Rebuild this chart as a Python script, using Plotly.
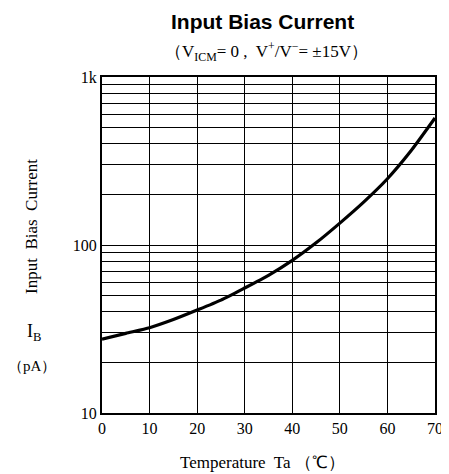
import plotly.graph_objects as go

temperature_c = [0, 5, 10, 15, 20, 25, 30, 35, 40, 45, 50, 55, 60, 65, 70]
bias_current_pa = [27.5, 29.8, 32.2, 36, 41, 47, 55.5, 66, 81, 103, 135, 180, 248, 365, 570]

x_ticks = [0, 10, 20, 30, 40, 50, 60, 70]
y_major = [10, 100, 1000]
y_major_text = ["10", "100", "1k"]
y_minor = [20, 30, 40, 50, 60, 70, 80, 90, 200, 300, 400, 500, 600, 700, 800, 900]

serif = "Liberation Serif, Times New Roman, serif"
sans = "Liberation Sans, Arial, sans-serif"

# the page body adds an 8px offset; the figure is sized to compensate
PAGE_OFF = 8
FIG_W, FIG_H = 449 - PAGE_OFF, 474 - PAGE_OFF
ML, MR, MT, MB = 102 - PAGE_OFF, 14, 77 - PAGE_OFF, 61

fig = go.Figure()
fig.add_trace(go.Scatter(
    x=temperature_c, y=bias_current_pa, mode="lines",
    line=dict(color="black", width=3.2, shape="spline", smoothing=0.6),
    hoverinfo="skip", showlegend=False,
))

fig.update_layout(
    width=FIG_W, height=FIG_H,
    margin=dict(l=ML, r=MR, t=MT, b=MB, autoexpand=False),
    paper_bgcolor="white", plot_bgcolor="white",
    showlegend=False,
    xaxis=dict(
        range=[0, 70], tickvals=x_ticks, ticktext=[str(v) for v in x_ticks],
        showgrid=True, gridcolor="black", gridwidth=1,
        showline=True, linecolor="black", linewidth=2, mirror=True,
        ticks="", ticklen=0, zeroline=False,
        tickfont=dict(family=serif, size=16, color="black"),
    ),
    yaxis=dict(
        type="log", range=[1, 3], tickvals=y_major, ticktext=y_major_text,
        showgrid=True, gridcolor="black", gridwidth=1,
        showline=True, linecolor="black", linewidth=2, mirror=True,
        ticks="", ticklen=0, zeroline=False,
        tickfont=dict(family=serif, size=16, color="black"),
        minor=dict(tickvals=y_minor, showgrid=True, gridcolor="black", gridwidth=1, ticks=""),
    ),
)

# text positions given in page pixels, converted to plot-area paper fractions
plot_left, plot_right = 102, 435
plot_top, plot_bottom = 77, 413
annos = [
    dict(text="<b>Input Bias Current</b>", x=262, y=22,
         font=dict(family=sans, size=21, color="black")),
    dict(text="（V<sub>ICM</sub>= 0 ,  V<sup>+</sup>/V<sup>−</sup>= ±15V）", x=266, y=51,
         font=dict(family=serif, size=17, color="black")),
    dict(text="Temperature  Ta （℃）", x=262, y=462,
         font=dict(family=serif, size=17, color="black")),
    dict(text="Input  Bias  Current", x=31, y=227, textangle=-90,
         font=dict(family=serif, size=17, color="black")),
    dict(text="I<sub>B</sub>", x=34, y=332,
         font=dict(family=serif, size=18, color="black")),
    dict(text="（pA）", x=32, y=366,
         font=dict(family=serif, size=15, color="black")),
]
for a in annos:
    xp = (a["x"] - plot_left) / (plot_right - plot_left)
    yp = (plot_bottom - a["y"]) / (plot_bottom - plot_top)
    fig.add_annotation(
        text=a["text"], x=xp, y=yp,
        xref="paper", yref="paper", xanchor="center", yanchor="middle",
        showarrow=False, font=a["font"], textangle=a.get("textangle", 0),
    )

fig.write_html("out.html")
